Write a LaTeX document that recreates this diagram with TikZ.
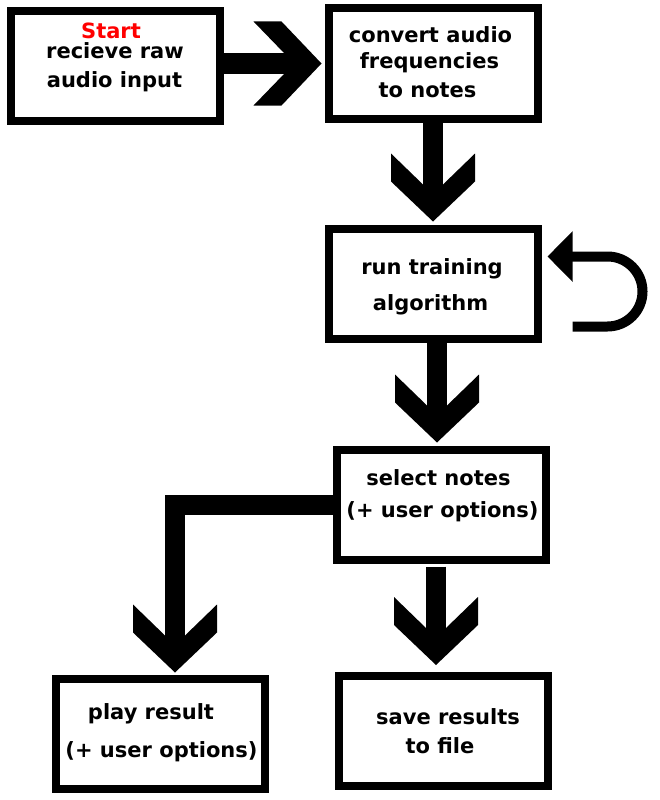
\documentclass[tikz,border=0pt]{standalone}
\usepackage{fontspec}
\setmainfont{DejaVu Sans}
\usetikzlibrary{arrows.meta}
\usetikzlibrary{calc}

\pgfdeclarearrow{
    name = Chevron,
    setup code = {
        \pgfarrowssettipend{0pt}
        \pgfarrowssetlineend{-36pt}
        \pgfarrowssetbackend{-68pt}
        \pgfarrowshullpoint{0pt}{0pt}
        \pgfarrowsupperhullpoint{-68pt}{42pt}
    },
    drawing code = {
        \pgfpathmoveto{\pgfpointorigin}
        \pgfpathlineto{\pgfpoint{-40pt}{42pt}}
        \pgfpathlineto{\pgfpoint{-68pt}{42pt}}
        \pgfpathlineto{\pgfpoint{-37pt}{10pt}}
        \pgfpathlineto{\pgfpoint{-37pt}{-10pt}}
        \pgfpathlineto{\pgfpoint{-68pt}{-42pt}}
        \pgfpathlineto{\pgfpoint{-40pt}{-42pt}}
        \pgfpathclose
        \pgfusepathqfill
    }
}

\begin{document}
\begin{tikzpicture}[x=1pt, y=-1pt,
        stepbox/.style={draw, rectangle, line width=8pt, inner sep=0pt, minimum width=209pt, minimum height=110pt},
        steptext/.style={anchor=base, inner sep=0pt, font=\fontsize{21}{25}\selectfont\bfseries},
        flow/.style={line width=20pt, -Chevron},
        loopflow/.style={line width=10pt, -{Triangle[length=25pt, width=49pt]}}]
        \useasboundingbox (0,0) rectangle (660,800);

        \node[stepbox] (recv) at (115,66) {};
        \node[stepbox] (conv) at (433,63.5) {};
        \node[stepbox] (run) at (433,283.5) {};
        \node[stepbox] (select) at (441.5,504.5) {};
        \node[stepbox] (play) at (160.5,733.5) {};
        \node[stepbox] (save) at (443,731) {};

        \foreach \tx/\ty/\tline [count=\i] in {
            111/38/{\color{red}Start}, 115/59/recieve raw, 114.5/87/audio input,
            430.5/43/convert audio, 429.5/69/frequencies, 427.5/97/to notes,
            432/274/run training, 430.5/310/algorithm,
            438.5/485/select notes, 442.5/517/{(+ user options)},
            151/719/play result, 161.5/757/{(+ user options)},
            448/724/save results, 440/753/to file} {
            \node[steptext] (line_\i) at (\tx,\ty) {\tline};
        }

        \draw[flow, shorten >=3pt] (recv.east |- conv.west) -- (conv.west);
        \draw[flow, shorten >=3pt] (conv.south) -- (run.north);
        \draw[flow, shorten >=3pt] ([xshift=4pt]run.south) -- ([xshift=-4.5pt]select.north);
        \draw[flow, shorten <=3pt, shorten >=7pt] ([xshift=-5.5pt]select.south) -- ([xshift=-7pt]save.north);
        \draw[flow, shorten >=2pt] (select.west) -| ([xshift=14.5pt]play.north);

        \coordinate (loop_tail) at ($(run.east)+(31,43)$);
        \draw[loopflow, shorten >=6pt] (loop_tail) -- ++(35,0) arc[start angle=90, end angle=-90, radius=35] -- ($(run.east)+(0,-27)$);
\end{tikzpicture}
\end{document}
